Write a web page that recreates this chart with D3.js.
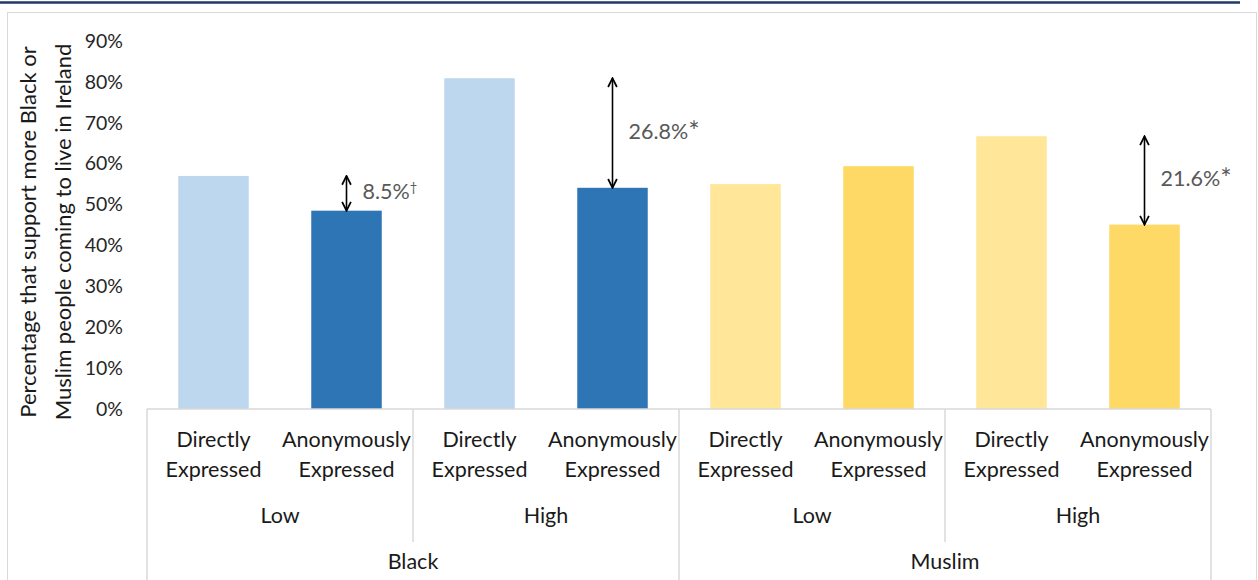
<!DOCTYPE html>
<html lang="en">
<head>
<meta charset="UTF-8">
<title>Support for Black or Muslim immigration</title>
<script src="https://d3js.org/d3.v7.min.js"></script>
<style>
  body { margin: 0; background: #fff; }
  svg { display: block; font-family: Lato, "Open Sans", sans-serif; }
  .tick-label { font-size: 19.5px; fill: #262626; }
  .cat-label { font-size: 21.5px; fill: #1a1a1a; }
  .diff-label { font-size: 21.5px; fill: #595959; }
  .axis-title { font-size: 22px; fill: #1a1a1a; }
</style>
</head>
<body>
<script>
// data
const groups = ["Black", "Muslim"];
const levels = ["Low", "High"];
const modes = ["Directly Expressed", "Anonymously Expressed"];
const values = [57.0, 48.5, 80.9, 54.1, 55.0, 59.4, 66.7, 45.1];
const diffs = [
  { idx: 1, text: "8.5%", mark: "\u2020" },
  { idx: 3, text: "26.8%", mark: "*" },
  { idx: 7, text: "21.6%", mark: "*" }
];
const yTicks = [0, 10, 20, 30, 40, 50, 60, 70, 80, 90];
const colours = { Black: ["#bdd7ee", "#2e75b6"], Muslim: ["#ffe699", "#ffd966"] };

// flat list of the 8 bars
const bars = [];
groups.forEach(g => levels.forEach(l => modes.forEach((m, mi) => {
  bars.push({ group: g, level: l, mode: m, mi: mi, value: values[bars.length], idx: bars.length });
})));

const width = 1258, height = 580;
const margin = { top: 41, left: 147, right: 47, bottom: 171 };

const svg = d3.select("body").append("svg")
  .attr("width", width)
  .attr("height", height);

// frame
svg.append("line")
  .attr("x1", 0).attr("x2", 1240).attr("y1", 2.5).attr("y2", 2.5)
  .attr("stroke", "#1f3864").attr("stroke-width", 2.5);
svg.append("rect")
  .attr("x", 7.5).attr("y", 12.5).attr("width", 1249).attr("height", 600)
  .attr("fill", "none").attr("stroke", "#d9d9d9");

const x = d3.scaleBand()
  .domain(bars.map(d => d.idx))
  .range([margin.left, width - margin.right])
  .paddingInner(0.47).paddingOuter(0.235);

const step = x.step();
const x0 = margin.left;

const y = d3.scaleLinear()
  .domain([0, 90])
  .range([height - margin.bottom, margin.top]);

const base = y(0);

// y tick labels
svg.append("g")
  .selectAll("text")
  .data(yTicks)
  .join("text")
  .attr("class", "tick-label")
  .attr("x", 123)
  .attr("y", d => y(d))
  .attr("dy", "0.35em")
  .attr("text-anchor", "end")
  .text(d => d + "%");

// bars
svg.append("g")
  .selectAll("rect")
  .data(bars)
  .join("rect")
  .attr("x", d => x(d.idx))
  .attr("y", d => y(d.value))
  .attr("width", x.bandwidth())
  .attr("height", d => base - y(d.value))
  .attr("fill", d => colours[d.group][d.mi]);

// category axis
const axis = svg.append("g").attr("stroke", "#d9d9d9").attr("stroke-width", 1.5);
axis.append("line")
  .attr("x1", x0).attr("x2", width - margin.right)
  .attr("y1", base).attr("y2", base);

// dividers: outer groups go to bottom, level dividers stop after level row
const nPer = levels.length * modes.length;
d3.range(groups.length + 1).forEach(i => {
  const xx = x0 + i * nPer * step;
  axis.append("line").attr("x1", xx).attr("x2", xx).attr("y1", base).attr("y2", height);
});
d3.range(groups.length * levels.length).forEach(i => {
  if (i % levels.length === 0) return;
  const xx = x0 + i * modes.length * step;
  axis.append("line").attr("x1", xx).attr("x2", xx).attr("y1", base).attr("y2", 542);
});

// mode labels (two lines)
const modeG = svg.append("g");
bars.forEach(d => {
  const cx = x(d.idx) + x.bandwidth() / 2;
  const words = d.mode.split(" ");
  const t = modeG.append("text")
    .attr("class", "cat-label")
    .attr("text-anchor", "middle")
    .attr("x", cx).attr("y", 447);
  words.forEach((w, i) => {
    t.append("tspan").attr("x", cx).attr("dy", i ? 30 : 0).text(w);
  });
});

// level labels
groups.forEach((g, gi) => levels.forEach((l, li) => {
  const start = x0 + (gi * levels.length + li) * modes.length * step;
  svg.append("text")
    .attr("class", "cat-label")
    .attr("text-anchor", "middle")
    .attr("x", start + modes.length * step / 2)
    .attr("y", 523)
    .text(l);
}));

// group labels
groups.forEach((g, gi) => {
  svg.append("text")
    .attr("class", "cat-label")
    .attr("text-anchor", "middle")
    .attr("x", x0 + (gi + 0.5) * nPer * step)
    .attr("y", 569)
    .text(g);
});

// y axis title
const title = svg.append("text")
  .attr("class", "axis-title")
  .attr("text-anchor", "middle")
  .attr("transform", `translate(28,232) rotate(-90)`);
title.append("tspan").attr("x", 0).attr("dy", "0.35em").text("Percentage that support more Black or");
title.append("tspan").attr("x", 0).attr("dy", 35).text("Muslim people coming to live in Ireland");

// difference arrows
const defs = svg.append("defs");
defs.append("marker")
  .attr("id", "head")
  .attr("viewBox", "0 0 10 10")
  .attr("refX", 9).attr("refY", 5)
  .attr("markerWidth", 11).attr("markerHeight", 11)
  .attr("markerUnits", "userSpaceOnUse")
  .attr("orient", "auto-start-reverse")
  .append("path")
  .attr("d", "M1,1 L9,5 L1,9")
  .attr("fill", "none")
  .attr("stroke", "#000")
  .attr("stroke-width", 1.6);

diffs.forEach(dd => {
  const b = bars[dd.idx];
  const top = values[dd.idx - 1];
  const cx = x(b.idx) + x.bandwidth() / 2;
  svg.append("line")
    .attr("x1", cx).attr("x2", cx)
    .attr("y1", y(top)).attr("y2", y(b.value))
    .attr("stroke", "#000").attr("stroke-width", 1.6)
    .attr("marker-start", "url(#head)")
    .attr("marker-end", "url(#head)");
  const t = svg.append("text")
    .attr("class", "diff-label")
    .attr("x", cx + 16)
    .attr("y", (y(top) + y(b.value)) / 2 - 2)
    .attr("dy", "0.35em")
    .text(dd.text);
  if (dd.mark === "\u2020") {
    t.append("tspan").attr("font-size", "13px").attr("dy", "-0.55em").text(dd.mark);
  } else {
    t.append("tspan").attr("font-size", "27px").attr("dy", "0.08em").text(dd.mark);
  }
});
</script>
</body>
</html>
